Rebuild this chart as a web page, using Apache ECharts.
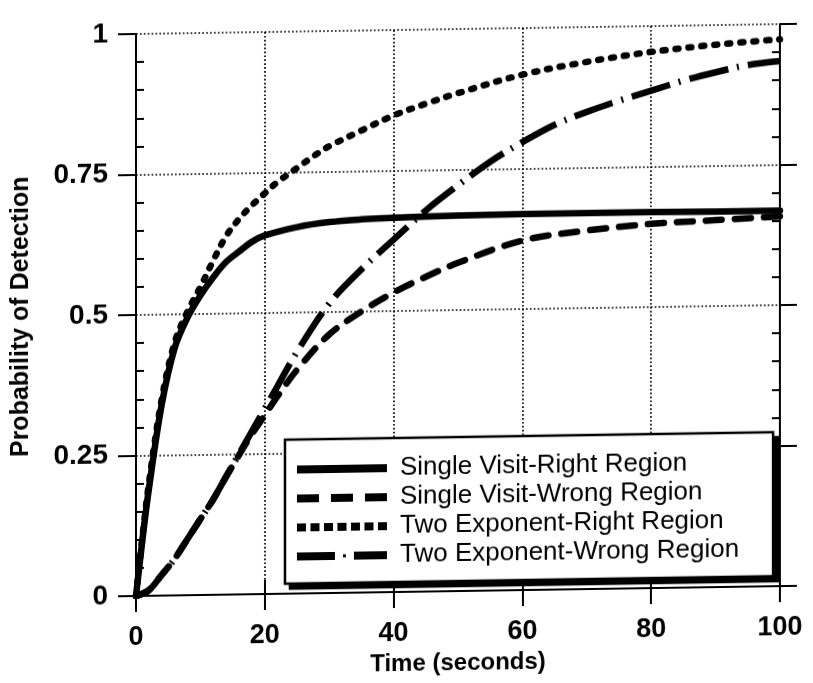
<!DOCTYPE html>
<html>
<head>
<meta charset="utf-8">
<script src="https://cdn.jsdelivr.net/npm/echarts@6/dist/echarts.min.js"></script>
<style>
  html, body { margin: 0; padding: 0; background: #fff; overflow: hidden; }
  #chart { width: 813px; height: 683px; transform: skewY(-0.88deg); transform-origin: 136px 0; }
</style>
</head>
<body>
<div id="chart"></div>
<script>
// ---- data ----
const seriesNames = [
  'Single Visit-Right Region',
  'Single Visit-Wrong Region',
  'Two Exponent-Right Region',
  'Two Exponent-Wrong Region'
];
const tSvRight = [0, 1, 2, 4, 6, 8, 10, 12, 14, 16, 18, 20, 25, 30, 35, 40, 50, 60, 70, 80, 90, 100];
const svRight  = [0, 0.1, 0.19, 0.34, 0.44, 0.494, 0.533, 0.565, 0.592, 0.61, 0.627, 0.638, 0.652, 0.66, 0.664, 0.666, 0.668, 0.669, 0.669, 0.669, 0.668, 0.668];

const tSvWrong = [0, 2, 4, 6, 8, 10, 12, 14, 16, 18, 20, 22, 25, 30, 35, 40, 45, 50, 60, 70, 80, 90, 100];
const svWrong  = [0, 0.01, 0.037, 0.065, 0.1, 0.135, 0.17, 0.21, 0.248, 0.285, 0.318, 0.352, 0.398, 0.46, 0.5, 0.533, 0.56, 0.584, 0.622, 0.638, 0.648, 0.653, 0.658];

const tTeRight = [0, 1, 2, 4, 6, 8, 10, 12, 14, 16, 18, 20, 22, 25, 28, 30, 35, 40, 45, 50, 60, 70, 80, 90, 100];
const teRight  = [0, 0.105, 0.2, 0.35, 0.45, 0.505, 0.548, 0.595, 0.638, 0.668, 0.692, 0.713, 0.733, 0.757, 0.781, 0.795, 0.822, 0.848, 0.868, 0.886, 0.917, 0.938, 0.954, 0.965, 0.973];

const tTeWrong = [0, 2, 4, 6, 8, 10, 12, 14, 16, 18, 20, 22, 25, 30, 35, 40, 45, 50, 55, 60, 65, 70, 75, 80, 85, 90, 95, 100];
const teWrong  = [0, 0.01, 0.037, 0.065, 0.1, 0.135, 0.17, 0.21, 0.25, 0.29, 0.33, 0.37, 0.43, 0.515, 0.575, 0.627, 0.678, 0.722, 0.763, 0.797, 0.827, 0.849, 0.868, 0.885, 0.902, 0.916, 0.928, 0.934];

const xTicks = [0, 20, 40, 60, 80, 100];
const yTicks = [0, 0.25, 0.5, 0.75, 1];
const xTitle = 'Time (seconds)';
const yTitle = 'Probability of Detection';

// ---- chart ----
const FONT = "'Liberation Sans', Arial, Helvetica, sans-serif";
const pairs = (xs, ys) => xs.map((x, i) => [x, ys[i]]);
const chart = echarts.init(document.getElementById('chart'), null, { renderer: 'canvas' });

const xMin = xTicks[0], xMax = xTicks[xTicks.length - 1], xInt = xTicks[1] - xTicks[0];
const yMin = yTicks[0], yMax = yTicks[yTicks.length - 1], yInt = yTicks[1] - yTicks[0];

const blackLine = { color: '#000', width: 2 };
const dotted = { color: '#000', width: 1.7, type: [1.7, 2.2] };

// legend glyphs (90 x 8 box) imitating each line style
const legendIcons = [
  'path://M0,0H90V8H0Z',
  'path://M0,0h22v8h-22z M34,0h22v8h-22z M68,0h22v8h-22z',
  'path://M0,0h9v8h-9z M13.5,0h9v8h-9z M27,0h9v8h-9z M40.5,0h9v8h-9z M54,0h9v8h-9z M67.5,0h9v8h-9z M81,0h9v8h-9z',
  'path://M0,0h38v8h-38z M46,2.5h3v3h-3z M57,0h33v8h-33z'
];

function yAxisBase(pos, extra) {
  return Object.assign({
    type: 'value', position: pos, min: yMin, max: yMax, interval: yInt,
    axisLine: { show: true, lineStyle: blackLine },
    axisTick: { show: false },
    axisLabel: { show: false },
    splitLine: { show: false },
    minorTick: { show: false }
  }, extra);
}

const lineCommon = { type: 'line', smooth: 0.35, symbol: 'none', showSymbol: false, xAxisIndex: 0, yAxisIndex: 0 };

function legendBox(extra) {
  return Object.assign({
    orient: 'vertical', left: 285, top: 442,
    itemWidth: 90, itemHeight: 8, itemGap: 3,
    padding: [17, 34, 14, 12],
    backgroundColor: '#fff', borderColor: '#000', borderWidth: 2.5, borderRadius: 0,
    selectedMode: false,
    textStyle: { fontFamily: FONT, fontSize: 26, lineHeight: 26, color: '#000', padding: [0, 0, 0, 8] },
    data: seriesNames.map((n, i) => ({ name: n, icon: legendIcons[i], itemStyle: { color: '#000', borderWidth: 0 } }))
  }, extra);
}

const option = {
  backgroundColor: '#fff',
  animation: false,
  grid: { left: 136, right: 33, top: 34, bottom: 87, containLabel: false, outerBoundsMode: 'none' },
  xAxis: [
    {
      type: 'value', position: 'bottom', min: xMin, max: xMax, interval: xInt,
      name: xTitle, nameLocation: 'middle', nameGap: 60,
      nameTextStyle: { fontFamily: FONT, fontSize: 24, fontWeight: 'bold', color: '#000' },
      axisLine: { show: true, lineStyle: blackLine },
      axisTick: { show: true, inside: false, length: 16, lineStyle: blackLine },
      axisLabel: { show: true, margin: 28, fontFamily: FONT, fontSize: 27, fontWeight: 'bold', color: '#000' },
      splitLine: { show: true, lineStyle: dotted }
    },
    {
      type: 'value', position: 'top', min: xMin, max: xMax, interval: xInt,
      axisLine: { show: true, lineStyle: blackLine },
      axisTick: { show: true, inside: false, length: 14, lineStyle: blackLine },
      axisLabel: { show: false },
      splitLine: { show: false }
    }
  ],
  yAxis: [
    yAxisBase('left', {
      name: yTitle, nameLocation: 'middle', nameGap: 102,
      nameTextStyle: { fontFamily: FONT, fontSize: 25, fontWeight: 'bold', color: '#000' },
      axisTick: { show: true, inside: false, length: 18, lineStyle: blackLine },
      axisLabel: { show: true, margin: 28, fontFamily: FONT, fontSize: 28, fontWeight: 'bold', color: '#000' },
      splitLine: { show: true, lineStyle: dotted }
    }),
    yAxisBase('left', {
      axisLine: { show: false },
      axisTick: { show: false, inside: true, length: 8 },
      minorTick: { show: true, splitNumber: 5, length: 8, lineStyle: { color: '#000', width: 2 } }
    }),
    yAxisBase('right', {
      axisTick: { show: true, inside: false, length: 17, lineStyle: blackLine }
    }),
    yAxisBase('right', {
      axisLine: { show: false },
      axisTick: { show: false, inside: true, length: 8 },
      minorTick: { show: true, splitNumber: 5, length: 8, lineStyle: { color: '#000', width: 2 } }
    })
  ],
  legend: [
    // drop shadow: same box, offset, solid black, drawn underneath
    legendBox({ left: 290, top: 447, backgroundColor: '#000', z: 3,
      textStyle: { fontFamily: FONT, fontSize: 26, lineHeight: 26, color: 'rgba(0,0,0,0)', padding: [0, 0, 0, 8] } }),
    legendBox({ z: 6 })
  ],
  series: [
    Object.assign({}, lineCommon, {
      name: seriesNames[0], data: pairs(tSvRight, svRight),
      lineStyle: { color: '#000', width: 6.5, type: 'solid', cap: 'round', join: 'round' },
      itemStyle: { color: '#000' }, z: 5
    }),
    Object.assign({}, lineCommon, {
      name: seriesNames[1], data: pairs(tSvWrong, svWrong),
      lineStyle: { color: '#000', width: 6.5, type: [16, 13], cap: 'round', join: 'round' },
      itemStyle: { color: '#000' }, z: 4
    }),
    Object.assign({}, lineCommon, {
      name: seriesNames[2], data: pairs(tTeRight, teRight),
      lineStyle: { color: '#000', width: 6.5, type: [3, 10], cap: 'round', join: 'round' },
      itemStyle: { color: '#000' }, z: 3
    }),
    Object.assign({}, lineCommon, {
      name: seriesNames[3], data: pairs(tTeWrong, teWrong),
      lineStyle: { color: '#000', width: 6.5, type: [40, 9, 2, 9], cap: 'butt', join: 'round' },
      itemStyle: { color: '#000' }, z: 3
    })
  ]
};
chart.setOption(option);
</script>
</body>
</html>
